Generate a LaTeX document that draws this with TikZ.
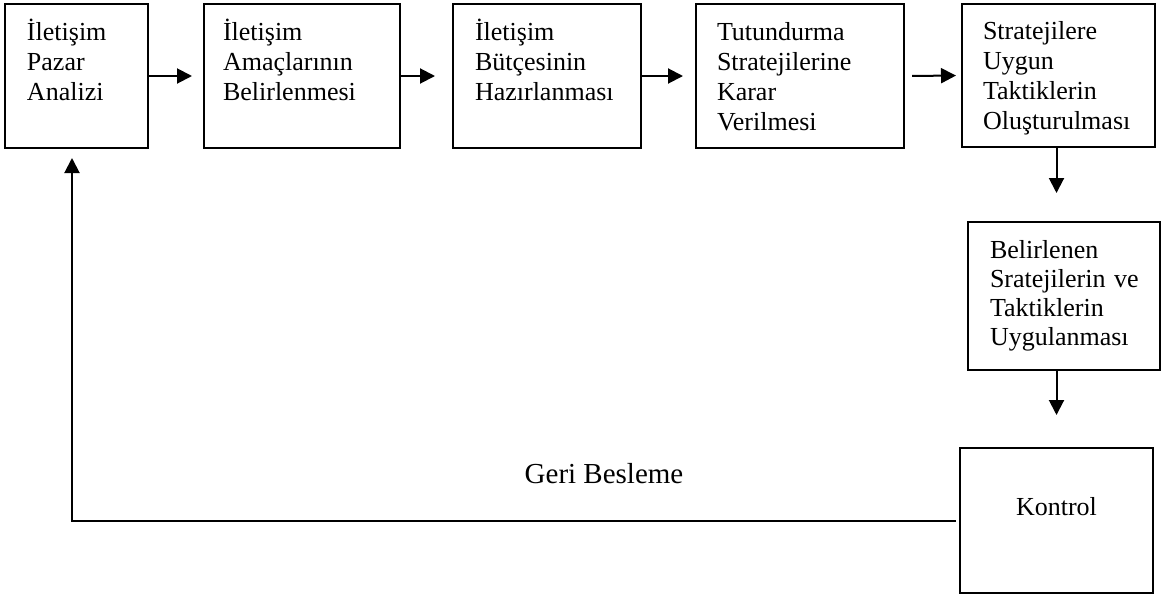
\documentclass[tikz,border=0pt]{standalone}
\usepackage{fontspec}
\setmainfont{Liberation Serif}
\usetikzlibrary{arrows.meta}
\tikzset{
  box/.style={draw, line width=2pt, rectangle, inner sep=0pt, outer sep=0pt, anchor=north west},
  txt/.style={inner sep=0pt, outer sep=0pt, anchor=base west, text width=200pt, align=left,
    font=\fontsize{26}{30.3}\selectfont},
  arr/.style={line width=2pt, -{Triangle[length=15pt, width=15pt]}},
}
\begin{document}
\begin{tikzpicture}[x=1pt, y=-1pt]
\useasboundingbox (0,0) rectangle (1172,595);

% process boxes, top row
\node[box, minimum width=143pt, minimum height=144pt] (b1) at (5,4) {};
\node[box, minimum width=196pt, minimum height=144pt] (b2) at (204,4) {};
\node[box, minimum width=188pt, minimum height=144pt] (b3) at (453,4) {};
\node[box, minimum width=208pt, minimum height=144pt] (b4) at (696,4) {};
\node[box, minimum width=193pt, minimum height=143pt] (b5) at (962,4) {};
% right column
\node[box, minimum width=192pt, minimum height=148pt] (b6) at (968,222) {};
\node[box, minimum width=193pt, minimum height=145pt] (b7) at (960,448) {};

% box texts
\node[txt] (t1) at (27,40) {İletişim\\Pazar\\Analizi};
\node[txt] (t2) at (223,40) {İletişim\\Amaçlarının\\Belirlenmesi};
\node[txt] (t3) at (475,40) {İletişim\\Bütçesinin\\Hazırlanması};
\node[txt] (t4) at (717,40) {Tutundurma\\Stratejilerine\\Karar\\Verilmesi};
\node[txt] (t5) at (983,39) {Stratejilere\\Uygun\\Taktiklerin\\Oluşturulması};
\node[txt, font=\fontsize{26}{29}\selectfont] (t6) at (990,258) {Belirlenen\\Sratejilerin ve\\Taktiklerin\\Uygulanması};
\node[inner sep=0pt, anchor=base, font=\fontsize{26}{30}\selectfont] (t7) at (1056.5,515) {Kontrol};
\node[inner sep=0pt, anchor=base, font=\fontsize{29}{34}\selectfont] (fbl) at (604,483) {Geri Besleme};

% flow along the top row
\draw[arr, shorten >=12pt] (b1.east) -- (b2.west);
\draw[arr, shorten >=18pt] (b2.east) -- (b3.west);
\draw[arr, shorten >=13pt] (b3.east) -- (b4.west);
\draw[arr, shorten <=8pt, shorten >=6pt] (b4.east) -- (b5.west);

% down the right column
\draw[arr, shorten >=29pt] (b7.north |- b5.south) -- (b7.north |- b6.north);
\draw[arr, shorten >=33pt] (b7.north |- b6.south) -- (b7.north);

% feedback loop back to the first box
\coordinate (fb) at (72,520.5);
\draw[arr, shorten <=4pt, shorten >=10pt] (b7.west) -- (fb) -- (fb |- b1.south);
\end{tikzpicture}
\end{document}
